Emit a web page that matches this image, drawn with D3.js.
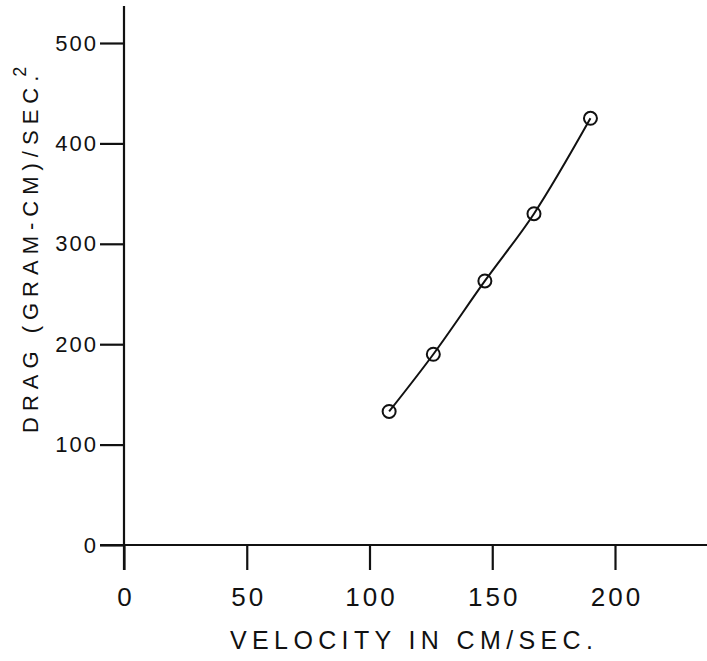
<!DOCTYPE html>
<html>
<head>
<meta charset="utf-8">
<script src="https://cdn.jsdelivr.net/npm/d3@7"></script>
<style>
html,body{margin:0;padding:0;background:#fff;}
svg{display:block;}
text{font-family:"Liberation Sans","DejaVu Sans",sans-serif;fill:#111;}
</style>
</head>
<body>
<svg id="chart" width="707" height="661"></svg>
<script>
const velocity = [108, 126, 147, 167, 190];
const drag = [133, 190, 263, 330, 425];
const xTicks = [0, 50, 100, 150, 200];
const yTicks = [0, 100, 200, 300, 400, 500];
const xTitle = "VELOCITY IN CM/SEC.";
const yTitleMain = "DRAG (GRAM-CM)/SEC.";
const yTitleSup = "2";

const svg = d3.select("#chart");
const W = 707, H = 661;
svg.append("rect").attr("width", W).attr("height", H).attr("fill", "#fff");

const x = d3.scaleLinear().domain([0, 200]).range([124, 615]);
const y = d3.scaleLinear().domain([0, 500]).range([545, 43]);

const ink = "#111";

// axis lines (extending past origin as in the reference)
svg.append("line").attr("x1", x(0) - 24).attr("x2", W).attr("y1", y(0)).attr("y2", y(0))
  .attr("stroke", ink).attr("stroke-width", 2.2);
svg.append("line").attr("x1", x(0)).attr("x2", x(0)).attr("y1", 6).attr("y2", y(0) + 25)
  .attr("stroke", ink).attr("stroke-width", 2.2);

// x axis ticks and labels
const xAxis = d3.axisBottom(x).tickValues(xTicks).tickSize(25).tickSizeOuter(0).tickPadding(18);
const gx = svg.append("g").attr("transform", `translate(0,${y(0)})`).call(xAxis);
gx.select(".domain").remove();
gx.selectAll(".tick line").attr("stroke", ink).attr("stroke-width", 2.2);
gx.selectAll(".tick text")
  .attr("font-size", 26).attr("font-family", "Liberation Sans, sans-serif")
  .attr("letter-spacing", 3).attr("dx", 1.5).attr("fill", ink);

// y axis ticks and labels
const yAxis = d3.axisLeft(y).tickValues(yTicks).tickSize(24).tickSizeOuter(0).tickPadding(4);
const gy = svg.append("g").attr("transform", `translate(${x(0)},0)`).call(yAxis);
gy.select(".domain").remove();
gy.selectAll(".tick line").attr("stroke", ink).attr("stroke-width", 2.2);
gy.selectAll(".tick text")
  .attr("font-size", 22).attr("font-family", "Liberation Sans, sans-serif")
  .attr("letter-spacing", 2).attr("dx", 2).attr("fill", ink);

// x title
svg.append("text")
  .attr("x", 230).attr("y", 649)
  .attr("font-size", 25)
  .attr("textLength", 363).attr("lengthAdjust", "spacing")
  .text(xTitle);

// y title
const yt = svg.append("text")
  .attr("transform", "translate(38,433) rotate(-90)")
  .attr("font-size", 22)
  .attr("letter-spacing", 6);
yt.append("tspan").text(yTitleMain);
yt.append("tspan").attr("dy", -12).attr("dx", -7).attr("font-size", 18).text(yTitleSup);

// curve
const pts = velocity.map((v, i) => [v, drag[i]]);
const line = d3.line().x(d => x(d[0])).y(d => y(d[1])).curve(d3.curveCatmullRom.alpha(0.5));
svg.append("path").attr("d", line(pts)).attr("fill", "none")
  .attr("stroke", ink).attr("stroke-width", 2);

// markers
svg.selectAll("circle.pt").data(pts).enter().append("circle")
  .attr("class", "pt")
  .attr("cx", d => x(d[0])).attr("cy", d => y(d[1])).attr("r", 6.5)
  .attr("fill", "none").attr("stroke", ink).attr("stroke-width", 2);
</script>
</body>
</html>
